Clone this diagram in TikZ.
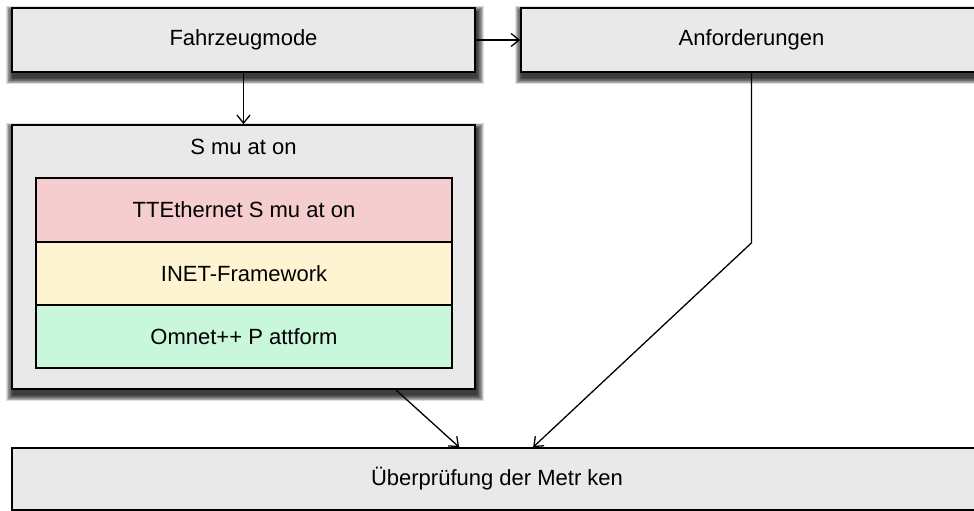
\documentclass[tikz,border=0pt]{standalone}
\usepackage{fontspec}
\setmainfont{Liberation Sans}
\usetikzlibrary{arrows.meta,calc,backgrounds}
\definecolor{boxgrey}{RGB}{233,233,233}
\definecolor{layerpink}{RGB}{245,205,206}
\definecolor{layeryellow}{RGB}{254,244,210}
\definecolor{layergreen}{RGB}{200,247,220}
\tikzset{
  box/.style={draw=black, line width=1.7pt, fill=boxgrey, rectangle, inner sep=0pt,
    font=\fontsize{22}{26}\selectfont},
  layer/.style={draw=black, line width=1.4pt, rectangle, inner sep=0pt,
    minimum width=416pt, minimum height=63pt, font=\fontsize{22}{26}\selectfont},
  txt/.style={inner sep=0pt, font=\fontsize{22}{26}\selectfont},
  arr/.style={draw=black, line width=1.3pt, -{Straight Barb[length=8pt,width=13pt,line width=1.3pt]}},
  shadowpiece/.style={fill=black, fill opacity=0.13},
}
\newcommand\myboxshadow[1]{%
  \foreach \k in {0,...,9}{%
    \fill[shadowpiece] ($(#1.north west)+(1.5-\k*0.7,5-\k*0.7)$) rectangle ($(#1.south east)+(1.5+\k*0.7,5+\k*0.7)$);
  }%
}
\begin{document}
\begin{tikzpicture}[x=1pt,y=-1pt]
\useasboundingbox (0,0) rectangle (974,511);
\clip (0,0) rectangle (974,511);
\node[box, minimum width=463pt, minimum height=64pt] (fm) at (243.5,40) {Fahrzeugmode};
\node[box, minimum width=461pt, minimum height=64pt] (anf) at (751.5,40) {Anforderungen};
\node[box, minimum width=463pt, minimum height=264pt] (sim) at (243.5,257) {};
\node[txt] (simt) at (243.5,147) {S mu at on};
\node[layer, fill=layerpink, minimum height=64pt] (tte) at (244,210) {TTEthernet S mu at on};
\node[layer, fill=layeryellow] (inet) at (244,273.5) {INET-Framework};
\node[layer, fill=layergreen] (omn) at (244,336.5) {Omnet++ P attform};
\node[box, minimum width=970pt, minimum height=62pt] (bot) at (497,479) {Überprüfung der Metr ken};
\begin{scope}[on background layer]
  \fill[white] (0,0) rectangle (974,511);
  \myboxshadow{fm}
  \myboxshadow{anf}
  \myboxshadow{sim}
\end{scope}
\draw[arr] (fm) -- (anf);
\draw[arr] (fm.south) -- (sim.north);
\draw[arr] ($(sim.south east)+(-80,0)$) -- ($(bot.north west)+(448,0)$);
\draw[arr] (anf.south) -- ++(0,170) -- ($(bot.north west)+(522,0)$);
\end{tikzpicture}
\end{document}
